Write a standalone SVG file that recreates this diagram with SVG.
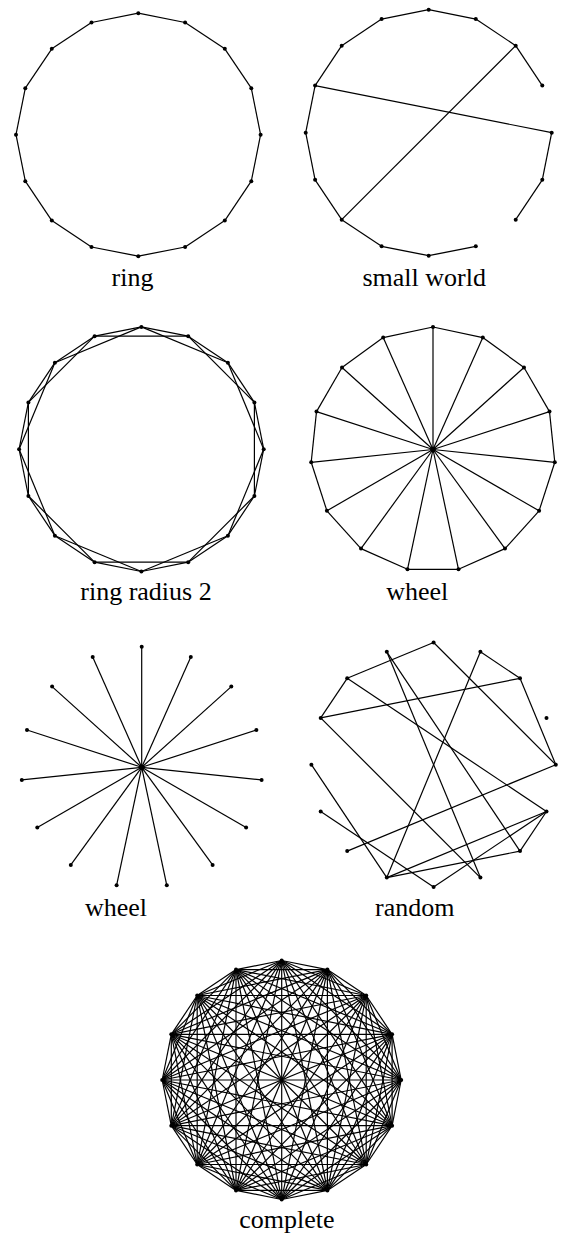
<svg xmlns="http://www.w3.org/2000/svg" width="562" height="1235" viewBox="0 0 562 1235">
<style>
.e line{stroke:#000;stroke-width:1.2;fill:none}
.n circle{fill:#000}
.lbl{font-family:"Liberation Serif","Times New Roman",serif;font-size:26px;fill:#000;text-anchor:middle}
</style>
<rect width="562" height="1235" fill="#fff"/>

<!-- ring -->
<g id="ring">
<g class="e" id="ring-edges">
<line x1="138.3" y1="13.2" x2="185.1" y2="22.5"/>
<line x1="185.1" y1="22.5" x2="224.8" y2="48.8"/>
<line x1="224.8" y1="48.8" x2="251.3" y2="88.2"/>
<line x1="251.3" y1="88.2" x2="260.6" y2="134.7"/>
<line x1="260.6" y1="134.7" x2="251.3" y2="181.2"/>
<line x1="251.3" y1="181.2" x2="224.8" y2="220.6"/>
<line x1="224.8" y1="220.6" x2="185.1" y2="247"/>
<line x1="185.1" y1="247" x2="138.3" y2="256.2"/>
<line x1="138.3" y1="256.2" x2="91.5" y2="247"/>
<line x1="91.5" y1="247" x2="51.8" y2="220.6"/>
<line x1="51.8" y1="220.6" x2="25.3" y2="181.2"/>
<line x1="25.3" y1="181.2" x2="16" y2="134.7"/>
<line x1="16" y1="134.7" x2="25.3" y2="88.2"/>
<line x1="25.3" y1="88.2" x2="51.8" y2="48.8"/>
<line x1="51.8" y1="48.8" x2="91.5" y2="22.5"/>
<line x1="91.5" y1="22.5" x2="138.3" y2="13.2"/>
</g>
<g class="n">
<g id="ring-n0"><circle cx="138.3" cy="13.2" r="2"/></g>
<g id="ring-n1"><circle cx="185.1" cy="22.5" r="2"/></g>
<g id="ring-n2"><circle cx="224.8" cy="48.8" r="2"/></g>
<g id="ring-n3"><circle cx="251.3" cy="88.2" r="2"/></g>
<g id="ring-n4"><circle cx="260.6" cy="134.7" r="2"/></g>
<g id="ring-n5"><circle cx="251.3" cy="181.2" r="2"/></g>
<g id="ring-n6"><circle cx="224.8" cy="220.6" r="2"/></g>
<g id="ring-n7"><circle cx="185.1" cy="247" r="2"/></g>
<g id="ring-n8"><circle cx="138.3" cy="256.2" r="2"/></g>
<g id="ring-n9"><circle cx="91.5" cy="247" r="2"/></g>
<g id="ring-n10"><circle cx="51.8" cy="220.6" r="2"/></g>
<g id="ring-n11"><circle cx="25.3" cy="181.2" r="2"/></g>
<g id="ring-n12"><circle cx="16" cy="134.7" r="2"/></g>
<g id="ring-n13"><circle cx="25.3" cy="88.2" r="2"/></g>
<g id="ring-n14"><circle cx="51.8" cy="48.8" r="2"/></g>
<g id="ring-n15"><circle cx="91.5" cy="22.5" r="2"/></g>
</g>
<text class="lbl" x="132.5" y="286">ring</text>
</g>

<!-- small world -->
<g id="smallworld">
<g class="e" id="smallworld-edges">
<line x1="428.7" y1="9.7" x2="475.8" y2="19.1"/>
<line x1="475.8" y1="19.1" x2="515.7" y2="45.7"/>
<line x1="515.7" y1="45.7" x2="542.3" y2="85.6"/>
<line x1="551.7" y1="132.7" x2="542.3" y2="179.8"/>
<line x1="542.3" y1="179.8" x2="515.7" y2="219.7"/>
<line x1="475.8" y1="246.3" x2="428.7" y2="255.7"/>
<line x1="428.7" y1="255.7" x2="381.6" y2="246.3"/>
<line x1="381.6" y1="246.3" x2="341.7" y2="219.7"/>
<line x1="341.7" y1="219.7" x2="315.1" y2="179.8"/>
<line x1="315.1" y1="179.8" x2="305.7" y2="132.7"/>
<line x1="305.7" y1="132.7" x2="315.1" y2="85.6"/>
<line x1="315.1" y1="85.6" x2="341.7" y2="45.7"/>
<line x1="341.7" y1="45.7" x2="381.6" y2="19.1"/>
<line x1="381.6" y1="19.1" x2="428.7" y2="9.7"/>
<line x1="315.1" y1="85.6" x2="551.7" y2="132.7"/>
<line x1="515.7" y1="45.7" x2="341.7" y2="219.7"/>
</g>
<g class="n">
<g id="sw-n0"><circle cx="428.7" cy="9.7" r="2"/></g>
<g id="sw-n1"><circle cx="475.8" cy="19.1" r="2"/></g>
<g id="sw-n2"><circle cx="515.7" cy="45.7" r="2"/></g>
<g id="sw-n3"><circle cx="542.3" cy="85.6" r="2"/></g>
<g id="sw-n4"><circle cx="551.7" cy="132.7" r="2"/></g>
<g id="sw-n5"><circle cx="542.3" cy="179.8" r="2"/></g>
<g id="sw-n6"><circle cx="515.7" cy="219.7" r="2"/></g>
<g id="sw-n7"><circle cx="475.8" cy="246.3" r="2"/></g>
<g id="sw-n8"><circle cx="428.7" cy="255.7" r="2"/></g>
<g id="sw-n9"><circle cx="381.6" cy="246.3" r="2"/></g>
<g id="sw-n10"><circle cx="341.7" cy="219.7" r="2"/></g>
<g id="sw-n11"><circle cx="315.1" cy="179.8" r="2"/></g>
<g id="sw-n12"><circle cx="305.7" cy="132.7" r="2"/></g>
<g id="sw-n13"><circle cx="315.1" cy="85.6" r="2"/></g>
<g id="sw-n14"><circle cx="341.7" cy="45.7" r="2"/></g>
<g id="sw-n15"><circle cx="381.6" cy="19.1" r="2"/></g>
</g>
<text class="lbl" x="424.2" y="286">small world</text>
</g>

<!-- ring radius 2 -->
<g id="ringradius2">
<g class="e" id="rr2-edges">
<line x1="141.4" y1="326.9" x2="188.2" y2="336.2"/>
<line x1="188.2" y1="336.2" x2="227.9" y2="362.7"/>
<line x1="227.9" y1="362.7" x2="254.4" y2="402.4"/>
<line x1="254.4" y1="402.4" x2="263.7" y2="449.2"/>
<line x1="263.7" y1="449.2" x2="254.4" y2="496"/>
<line x1="254.4" y1="496" x2="227.9" y2="535.7"/>
<line x1="227.9" y1="535.7" x2="188.2" y2="562.2"/>
<line x1="188.2" y1="562.2" x2="141.4" y2="571.5"/>
<line x1="141.4" y1="571.5" x2="94.6" y2="562.2"/>
<line x1="94.6" y1="562.2" x2="54.9" y2="535.7"/>
<line x1="54.9" y1="535.7" x2="28.4" y2="496"/>
<line x1="28.4" y1="496" x2="19.1" y2="449.2"/>
<line x1="19.1" y1="449.2" x2="28.4" y2="402.4"/>
<line x1="28.4" y1="402.4" x2="54.9" y2="362.7"/>
<line x1="54.9" y1="362.7" x2="94.6" y2="336.2"/>
<line x1="94.6" y1="336.2" x2="141.4" y2="326.9"/>
<line x1="141.4" y1="326.9" x2="227.9" y2="362.7"/>
<line x1="188.2" y1="336.2" x2="254.4" y2="402.4"/>
<line x1="227.9" y1="362.7" x2="263.7" y2="449.2"/>
<line x1="254.4" y1="402.4" x2="254.4" y2="496"/>
<line x1="263.7" y1="449.2" x2="227.9" y2="535.7"/>
<line x1="254.4" y1="496" x2="188.2" y2="562.2"/>
<line x1="227.9" y1="535.7" x2="141.4" y2="571.5"/>
<line x1="188.2" y1="562.2" x2="94.6" y2="562.2"/>
<line x1="141.4" y1="571.5" x2="54.9" y2="535.7"/>
<line x1="94.6" y1="562.2" x2="28.4" y2="496"/>
<line x1="54.9" y1="535.7" x2="19.1" y2="449.2"/>
<line x1="28.4" y1="496" x2="28.4" y2="402.4"/>
<line x1="19.1" y1="449.2" x2="54.9" y2="362.7"/>
<line x1="28.4" y1="402.4" x2="94.6" y2="336.2"/>
<line x1="54.9" y1="362.7" x2="141.4" y2="326.9"/>
<line x1="94.6" y1="336.2" x2="188.2" y2="336.2"/>
</g>
<g class="n">
<g id="rr2-n0"><circle cx="141.4" cy="326.9" r="2"/></g>
<g id="rr2-n1"><circle cx="188.2" cy="336.2" r="2"/></g>
<g id="rr2-n2"><circle cx="227.9" cy="362.7" r="2"/></g>
<g id="rr2-n3"><circle cx="254.4" cy="402.4" r="2"/></g>
<g id="rr2-n4"><circle cx="263.7" cy="449.2" r="2"/></g>
<g id="rr2-n5"><circle cx="254.4" cy="496" r="2"/></g>
<g id="rr2-n6"><circle cx="227.9" cy="535.7" r="2"/></g>
<g id="rr2-n7"><circle cx="188.2" cy="562.2" r="2"/></g>
<g id="rr2-n8"><circle cx="141.4" cy="571.5" r="2"/></g>
<g id="rr2-n9"><circle cx="94.6" cy="562.2" r="2"/></g>
<g id="rr2-n10"><circle cx="54.9" cy="535.7" r="2"/></g>
<g id="rr2-n11"><circle cx="28.4" cy="496" r="2"/></g>
<g id="rr2-n12"><circle cx="19.1" cy="449.2" r="2"/></g>
<g id="rr2-n13"><circle cx="28.4" cy="402.4" r="2"/></g>
<g id="rr2-n14"><circle cx="54.9" cy="362.7" r="2"/></g>
<g id="rr2-n15"><circle cx="94.6" cy="336.2" r="2"/></g>
</g>
<text class="lbl" x="146" y="600">ring radius 2</text>
</g>

<!-- wheel -->
<g id="wheel">
<g class="e" id="wheel-edges">
<line x1="433" y1="327" x2="482.8" y2="337.6"/>
<line x1="482.8" y1="337.6" x2="524" y2="367.5"/>
<line x1="524" y1="367.5" x2="549.5" y2="411.6"/>
<line x1="549.5" y1="411.6" x2="554.8" y2="462.3"/>
<line x1="554.8" y1="462.3" x2="539.1" y2="510.8"/>
<line x1="539.1" y1="510.8" x2="505" y2="548.6"/>
<line x1="505" y1="548.6" x2="458.5" y2="569.3"/>
<line x1="458.5" y1="569.3" x2="407.5" y2="569.3"/>
<line x1="407.5" y1="569.3" x2="361" y2="548.6"/>
<line x1="361" y1="548.6" x2="326.9" y2="510.8"/>
<line x1="326.9" y1="510.8" x2="311.2" y2="462.3"/>
<line x1="311.2" y1="462.3" x2="316.5" y2="411.6"/>
<line x1="316.5" y1="411.6" x2="342" y2="367.5"/>
<line x1="342" y1="367.5" x2="383.2" y2="337.6"/>
<line x1="383.2" y1="337.6" x2="433" y2="327"/>
<line x1="433" y1="449.5" x2="433" y2="327"/>
<line x1="433" y1="449.5" x2="482.8" y2="337.6"/>
<line x1="433" y1="449.5" x2="524" y2="367.5"/>
<line x1="433" y1="449.5" x2="549.5" y2="411.6"/>
<line x1="433" y1="449.5" x2="554.8" y2="462.3"/>
<line x1="433" y1="449.5" x2="539.1" y2="510.8"/>
<line x1="433" y1="449.5" x2="505" y2="548.6"/>
<line x1="433" y1="449.5" x2="458.5" y2="569.3"/>
<line x1="433" y1="449.5" x2="407.5" y2="569.3"/>
<line x1="433" y1="449.5" x2="361" y2="548.6"/>
<line x1="433" y1="449.5" x2="326.9" y2="510.8"/>
<line x1="433" y1="449.5" x2="311.2" y2="462.3"/>
<line x1="433" y1="449.5" x2="316.5" y2="411.6"/>
<line x1="433" y1="449.5" x2="342" y2="367.5"/>
<line x1="433" y1="449.5" x2="383.2" y2="337.6"/>
</g>
<g class="n">
<g id="wheel-hub"><circle cx="433" cy="449.5" r="2.8"/></g>
<g id="wheel-n0"><circle cx="433" cy="327" r="2"/></g>
<g id="wheel-n1"><circle cx="482.8" cy="337.6" r="2"/></g>
<g id="wheel-n2"><circle cx="524" cy="367.5" r="2"/></g>
<g id="wheel-n3"><circle cx="549.5" cy="411.6" r="2"/></g>
<g id="wheel-n4"><circle cx="554.8" cy="462.3" r="2"/></g>
<g id="wheel-n5"><circle cx="539.1" cy="510.8" r="2"/></g>
<g id="wheel-n6"><circle cx="505" cy="548.6" r="2"/></g>
<g id="wheel-n7"><circle cx="458.5" cy="569.3" r="2"/></g>
<g id="wheel-n8"><circle cx="407.5" cy="569.3" r="2"/></g>
<g id="wheel-n9"><circle cx="361" cy="548.6" r="2"/></g>
<g id="wheel-n10"><circle cx="326.9" cy="510.8" r="2"/></g>
<g id="wheel-n11"><circle cx="311.2" cy="462.3" r="2"/></g>
<g id="wheel-n12"><circle cx="316.5" cy="411.6" r="2"/></g>
<g id="wheel-n13"><circle cx="342" cy="367.5" r="2"/></g>
<g id="wheel-n14"><circle cx="383.2" cy="337.6" r="2"/></g>
</g>
<text class="lbl" x="417.3" y="600">wheel</text>
</g>

<!-- star wheel -->
<g id="star">
<g class="e" id="star-edges">
<line x1="141.7" y1="767.3" x2="141.7" y2="646.7"/>
<line x1="141.7" y1="767.3" x2="190.8" y2="657.1"/>
<line x1="141.7" y1="767.3" x2="231.3" y2="686.6"/>
<line x1="141.7" y1="767.3" x2="256.4" y2="730"/>
<line x1="141.7" y1="767.3" x2="261.6" y2="779.9"/>
<line x1="141.7" y1="767.3" x2="246.1" y2="827.6"/>
<line x1="141.7" y1="767.3" x2="212.6" y2="864.9"/>
<line x1="141.7" y1="767.3" x2="166.8" y2="885.3"/>
<line x1="141.7" y1="767.3" x2="116.6" y2="885.3"/>
<line x1="141.7" y1="767.3" x2="70.8" y2="864.9"/>
<line x1="141.7" y1="767.3" x2="37.3" y2="827.6"/>
<line x1="141.7" y1="767.3" x2="21.8" y2="779.9"/>
<line x1="141.7" y1="767.3" x2="27" y2="730"/>
<line x1="141.7" y1="767.3" x2="52.1" y2="686.6"/>
<line x1="141.7" y1="767.3" x2="92.7" y2="657.1"/>
</g>
<g class="n">
<g id="star-hub"><circle cx="141.7" cy="767.3" r="2.8"/></g>
<g id="star-n0"><circle cx="141.7" cy="646.7" r="2"/></g>
<g id="star-n1"><circle cx="190.8" cy="657.1" r="2"/></g>
<g id="star-n2"><circle cx="231.3" cy="686.6" r="2"/></g>
<g id="star-n3"><circle cx="256.4" cy="730" r="2"/></g>
<g id="star-n4"><circle cx="261.6" cy="779.9" r="2"/></g>
<g id="star-n5"><circle cx="246.1" cy="827.6" r="2"/></g>
<g id="star-n6"><circle cx="212.6" cy="864.9" r="2"/></g>
<g id="star-n7"><circle cx="166.8" cy="885.3" r="2"/></g>
<g id="star-n8"><circle cx="116.6" cy="885.3" r="2"/></g>
<g id="star-n9"><circle cx="70.8" cy="864.9" r="2"/></g>
<g id="star-n10"><circle cx="37.3" cy="827.6" r="2"/></g>
<g id="star-n11"><circle cx="21.8" cy="779.9" r="2"/></g>
<g id="star-n12"><circle cx="27" cy="730" r="2"/></g>
<g id="star-n13"><circle cx="52.1" cy="686.6" r="2"/></g>
<g id="star-n14"><circle cx="92.7" cy="657.1" r="2"/></g>
</g>
<text class="lbl" x="116" y="916">wheel</text>
</g>

<!-- random -->
<g id="random">
<g class="e" id="random-edges">
<line x1="433.6" y1="642.5" x2="347.2" y2="678.3"/>
<line x1="433.6" y1="642.5" x2="555.8" y2="764.7"/>
<line x1="480.4" y1="651.8" x2="520" y2="678.3"/>
<line x1="480.4" y1="651.8" x2="386.8" y2="877.6"/>
<line x1="520" y1="678.3" x2="320.7" y2="717.9"/>
<line x1="520" y1="678.3" x2="555.8" y2="764.7"/>
<line x1="347.2" y1="678.3" x2="320.7" y2="717.9"/>
<line x1="347.2" y1="678.3" x2="546.5" y2="811.5"/>
<line x1="386.8" y1="651.8" x2="520" y2="851.1"/>
<line x1="386.8" y1="651.8" x2="480.4" y2="877.6"/>
<line x1="320.7" y1="717.9" x2="480.4" y2="877.6"/>
<line x1="555.8" y1="764.7" x2="347.2" y2="851.1"/>
<line x1="546.5" y1="811.5" x2="520" y2="851.1"/>
<line x1="546.5" y1="811.5" x2="386.8" y2="877.6"/>
<line x1="546.5" y1="811.5" x2="433.6" y2="886.9"/>
<line x1="520" y1="851.1" x2="386.8" y2="877.6"/>
<line x1="320.7" y1="811.5" x2="433.6" y2="886.9"/>
<line x1="311.4" y1="764.7" x2="386.8" y2="877.6"/>
</g>
<g class="n">
<g id="rnd-n0"><circle cx="433.6" cy="642.5" r="2"/></g>
<g id="rnd-n1"><circle cx="480.4" cy="651.8" r="2"/></g>
<g id="rnd-n2"><circle cx="520" cy="678.3" r="2"/></g>
<g id="rnd-n3"><circle cx="546.5" cy="717.9" r="2"/></g>
<g id="rnd-n4"><circle cx="555.8" cy="764.7" r="2"/></g>
<g id="rnd-n5"><circle cx="546.5" cy="811.5" r="2"/></g>
<g id="rnd-n6"><circle cx="520" cy="851.1" r="2"/></g>
<g id="rnd-n7"><circle cx="480.4" cy="877.6" r="2"/></g>
<g id="rnd-n8"><circle cx="433.6" cy="886.9" r="2"/></g>
<g id="rnd-n9"><circle cx="386.8" cy="877.6" r="2"/></g>
<g id="rnd-n10"><circle cx="347.2" cy="851.1" r="2"/></g>
<g id="rnd-n11"><circle cx="320.7" cy="811.5" r="2"/></g>
<g id="rnd-n12"><circle cx="311.4" cy="764.7" r="2"/></g>
<g id="rnd-n13"><circle cx="320.7" cy="717.9" r="2"/></g>
<g id="rnd-n14"><circle cx="347.2" cy="678.3" r="2"/></g>
<g id="rnd-n15"><circle cx="386.8" cy="651.8" r="2"/></g>
</g>
<text class="lbl" x="414.7" y="916">random</text>
</g>

<!-- complete -->
<g id="complete">
<g class="e" id="complete-edges">
<line x1="281.7" y1="960.5" x2="327.4" y2="969.6"/>
<line x1="281.7" y1="960.5" x2="366.2" y2="995.5"/>
<line x1="281.7" y1="960.5" x2="392.1" y2="1034.3"/>
<line x1="281.7" y1="960.5" x2="401.2" y2="1080"/>
<line x1="281.7" y1="960.5" x2="392.1" y2="1125.7"/>
<line x1="281.7" y1="960.5" x2="366.2" y2="1164.5"/>
<line x1="281.7" y1="960.5" x2="327.4" y2="1190.4"/>
<line x1="281.7" y1="960.5" x2="281.7" y2="1199.5"/>
<line x1="281.7" y1="960.5" x2="236" y2="1190.4"/>
<line x1="281.7" y1="960.5" x2="197.2" y2="1164.5"/>
<line x1="281.7" y1="960.5" x2="171.3" y2="1125.7"/>
<line x1="281.7" y1="960.5" x2="162.2" y2="1080"/>
<line x1="281.7" y1="960.5" x2="171.3" y2="1034.3"/>
<line x1="281.7" y1="960.5" x2="197.2" y2="995.5"/>
<line x1="281.7" y1="960.5" x2="236" y2="969.6"/>
<line x1="327.4" y1="969.6" x2="366.2" y2="995.5"/>
<line x1="327.4" y1="969.6" x2="392.1" y2="1034.3"/>
<line x1="327.4" y1="969.6" x2="401.2" y2="1080"/>
<line x1="327.4" y1="969.6" x2="392.1" y2="1125.7"/>
<line x1="327.4" y1="969.6" x2="366.2" y2="1164.5"/>
<line x1="327.4" y1="969.6" x2="327.4" y2="1190.4"/>
<line x1="327.4" y1="969.6" x2="281.7" y2="1199.5"/>
<line x1="327.4" y1="969.6" x2="236" y2="1190.4"/>
<line x1="327.4" y1="969.6" x2="197.2" y2="1164.5"/>
<line x1="327.4" y1="969.6" x2="171.3" y2="1125.7"/>
<line x1="327.4" y1="969.6" x2="162.2" y2="1080"/>
<line x1="327.4" y1="969.6" x2="171.3" y2="1034.3"/>
<line x1="327.4" y1="969.6" x2="197.2" y2="995.5"/>
<line x1="327.4" y1="969.6" x2="236" y2="969.6"/>
<line x1="366.2" y1="995.5" x2="392.1" y2="1034.3"/>
<line x1="366.2" y1="995.5" x2="401.2" y2="1080"/>
<line x1="366.2" y1="995.5" x2="392.1" y2="1125.7"/>
<line x1="366.2" y1="995.5" x2="366.2" y2="1164.5"/>
<line x1="366.2" y1="995.5" x2="327.4" y2="1190.4"/>
<line x1="366.2" y1="995.5" x2="281.7" y2="1199.5"/>
<line x1="366.2" y1="995.5" x2="236" y2="1190.4"/>
<line x1="366.2" y1="995.5" x2="197.2" y2="1164.5"/>
<line x1="366.2" y1="995.5" x2="171.3" y2="1125.7"/>
<line x1="366.2" y1="995.5" x2="162.2" y2="1080"/>
<line x1="366.2" y1="995.5" x2="171.3" y2="1034.3"/>
<line x1="366.2" y1="995.5" x2="197.2" y2="995.5"/>
<line x1="366.2" y1="995.5" x2="236" y2="969.6"/>
<line x1="392.1" y1="1034.3" x2="401.2" y2="1080"/>
<line x1="392.1" y1="1034.3" x2="392.1" y2="1125.7"/>
<line x1="392.1" y1="1034.3" x2="366.2" y2="1164.5"/>
<line x1="392.1" y1="1034.3" x2="327.4" y2="1190.4"/>
<line x1="392.1" y1="1034.3" x2="281.7" y2="1199.5"/>
<line x1="392.1" y1="1034.3" x2="236" y2="1190.4"/>
<line x1="392.1" y1="1034.3" x2="197.2" y2="1164.5"/>
<line x1="392.1" y1="1034.3" x2="171.3" y2="1125.7"/>
<line x1="392.1" y1="1034.3" x2="162.2" y2="1080"/>
<line x1="392.1" y1="1034.3" x2="171.3" y2="1034.3"/>
<line x1="392.1" y1="1034.3" x2="197.2" y2="995.5"/>
<line x1="392.1" y1="1034.3" x2="236" y2="969.6"/>
<line x1="401.2" y1="1080" x2="392.1" y2="1125.7"/>
<line x1="401.2" y1="1080" x2="366.2" y2="1164.5"/>
<line x1="401.2" y1="1080" x2="327.4" y2="1190.4"/>
<line x1="401.2" y1="1080" x2="281.7" y2="1199.5"/>
<line x1="401.2" y1="1080" x2="236" y2="1190.4"/>
<line x1="401.2" y1="1080" x2="197.2" y2="1164.5"/>
<line x1="401.2" y1="1080" x2="171.3" y2="1125.7"/>
<line x1="401.2" y1="1080" x2="162.2" y2="1080"/>
<line x1="401.2" y1="1080" x2="171.3" y2="1034.3"/>
<line x1="401.2" y1="1080" x2="197.2" y2="995.5"/>
<line x1="401.2" y1="1080" x2="236" y2="969.6"/>
<line x1="392.1" y1="1125.7" x2="366.2" y2="1164.5"/>
<line x1="392.1" y1="1125.7" x2="327.4" y2="1190.4"/>
<line x1="392.1" y1="1125.7" x2="281.7" y2="1199.5"/>
<line x1="392.1" y1="1125.7" x2="236" y2="1190.4"/>
<line x1="392.1" y1="1125.7" x2="197.2" y2="1164.5"/>
<line x1="392.1" y1="1125.7" x2="171.3" y2="1125.7"/>
<line x1="392.1" y1="1125.7" x2="162.2" y2="1080"/>
<line x1="392.1" y1="1125.7" x2="171.3" y2="1034.3"/>
<line x1="392.1" y1="1125.7" x2="197.2" y2="995.5"/>
<line x1="392.1" y1="1125.7" x2="236" y2="969.6"/>
<line x1="366.2" y1="1164.5" x2="327.4" y2="1190.4"/>
<line x1="366.2" y1="1164.5" x2="281.7" y2="1199.5"/>
<line x1="366.2" y1="1164.5" x2="236" y2="1190.4"/>
<line x1="366.2" y1="1164.5" x2="197.2" y2="1164.5"/>
<line x1="366.2" y1="1164.5" x2="171.3" y2="1125.7"/>
<line x1="366.2" y1="1164.5" x2="162.2" y2="1080"/>
<line x1="366.2" y1="1164.5" x2="171.3" y2="1034.3"/>
<line x1="366.2" y1="1164.5" x2="197.2" y2="995.5"/>
<line x1="366.2" y1="1164.5" x2="236" y2="969.6"/>
<line x1="327.4" y1="1190.4" x2="281.7" y2="1199.5"/>
<line x1="327.4" y1="1190.4" x2="236" y2="1190.4"/>
<line x1="327.4" y1="1190.4" x2="197.2" y2="1164.5"/>
<line x1="327.4" y1="1190.4" x2="171.3" y2="1125.7"/>
<line x1="327.4" y1="1190.4" x2="162.2" y2="1080"/>
<line x1="327.4" y1="1190.4" x2="171.3" y2="1034.3"/>
<line x1="327.4" y1="1190.4" x2="197.2" y2="995.5"/>
<line x1="327.4" y1="1190.4" x2="236" y2="969.6"/>
<line x1="281.7" y1="1199.5" x2="236" y2="1190.4"/>
<line x1="281.7" y1="1199.5" x2="197.2" y2="1164.5"/>
<line x1="281.7" y1="1199.5" x2="171.3" y2="1125.7"/>
<line x1="281.7" y1="1199.5" x2="162.2" y2="1080"/>
<line x1="281.7" y1="1199.5" x2="171.3" y2="1034.3"/>
<line x1="281.7" y1="1199.5" x2="197.2" y2="995.5"/>
<line x1="281.7" y1="1199.5" x2="236" y2="969.6"/>
<line x1="236" y1="1190.4" x2="197.2" y2="1164.5"/>
<line x1="236" y1="1190.4" x2="171.3" y2="1125.7"/>
<line x1="236" y1="1190.4" x2="162.2" y2="1080"/>
<line x1="236" y1="1190.4" x2="171.3" y2="1034.3"/>
<line x1="236" y1="1190.4" x2="197.2" y2="995.5"/>
<line x1="236" y1="1190.4" x2="236" y2="969.6"/>
<line x1="197.2" y1="1164.5" x2="171.3" y2="1125.7"/>
<line x1="197.2" y1="1164.5" x2="162.2" y2="1080"/>
<line x1="197.2" y1="1164.5" x2="171.3" y2="1034.3"/>
<line x1="197.2" y1="1164.5" x2="197.2" y2="995.5"/>
<line x1="197.2" y1="1164.5" x2="236" y2="969.6"/>
<line x1="171.3" y1="1125.7" x2="162.2" y2="1080"/>
<line x1="171.3" y1="1125.7" x2="171.3" y2="1034.3"/>
<line x1="171.3" y1="1125.7" x2="197.2" y2="995.5"/>
<line x1="171.3" y1="1125.7" x2="236" y2="969.6"/>
<line x1="162.2" y1="1080" x2="171.3" y2="1034.3"/>
<line x1="162.2" y1="1080" x2="197.2" y2="995.5"/>
<line x1="162.2" y1="1080" x2="236" y2="969.6"/>
<line x1="171.3" y1="1034.3" x2="197.2" y2="995.5"/>
<line x1="171.3" y1="1034.3" x2="236" y2="969.6"/>
<line x1="197.2" y1="995.5" x2="236" y2="969.6"/>
</g>
<g class="n">
<g id="cmp-n0"><circle cx="281.7" cy="960.5" r="2"/></g>
<g id="cmp-n1"><circle cx="327.4" cy="969.6" r="2"/></g>
<g id="cmp-n2"><circle cx="366.2" cy="995.5" r="2"/></g>
<g id="cmp-n3"><circle cx="392.1" cy="1034.3" r="2"/></g>
<g id="cmp-n4"><circle cx="401.2" cy="1080" r="2"/></g>
<g id="cmp-n5"><circle cx="392.1" cy="1125.7" r="2"/></g>
<g id="cmp-n6"><circle cx="366.2" cy="1164.5" r="2"/></g>
<g id="cmp-n7"><circle cx="327.4" cy="1190.4" r="2"/></g>
<g id="cmp-n8"><circle cx="281.7" cy="1199.5" r="2"/></g>
<g id="cmp-n9"><circle cx="236" cy="1190.4" r="2"/></g>
<g id="cmp-n10"><circle cx="197.2" cy="1164.5" r="2"/></g>
<g id="cmp-n11"><circle cx="171.3" cy="1125.7" r="2"/></g>
<g id="cmp-n12"><circle cx="162.2" cy="1080" r="2"/></g>
<g id="cmp-n13"><circle cx="171.3" cy="1034.3" r="2"/></g>
<g id="cmp-n14"><circle cx="197.2" cy="995.5" r="2"/></g>
<g id="cmp-n15"><circle cx="236" cy="969.6" r="2"/></g>
</g>
<text class="lbl" x="286.8" y="1228">complete</text>
</g>
</svg>
